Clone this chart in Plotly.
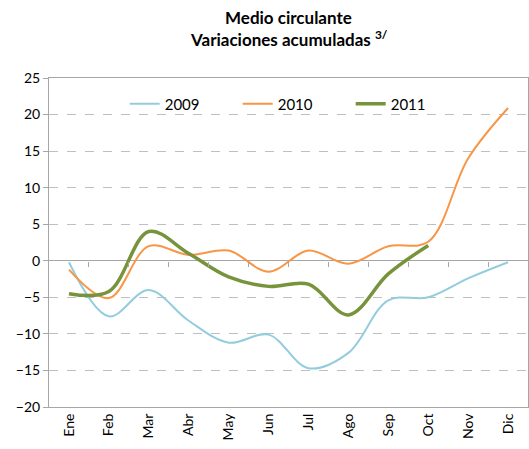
import plotly.graph_objects as go

months = ["Ene", "Feb", "Mar", "Abr", "May", "Jun", "Jul", "Ago", "Sep", "Oct", "Nov", "Dic"]
y2009 = [-0.2, -7.6, -4.0, -8.2, -11.2, -10.1, -14.7, -12.6, -5.4, -5.0, -2.4, -0.2]
y2010 = [-1.2, -5.1, 2.0, 0.8, 1.4, -1.5, 1.4, -0.4, 2.0, 2.6, 14.0, 20.9]
y2011 = [-4.5, -4.2, 4.0, 1.0, -2.2, -3.5, -3.2, -7.4, -1.8, 2.1]
title_lines = ["Medio circulante", "Variaciones acumuladas <sup>3/</sup>"]

FONT = "Lato"
fig = go.Figure()
fig.add_trace(go.Scatter(x=months, y=y2009, name="2009", mode="lines",
                         line=dict(color="#93CDDD", width=2, shape="spline", smoothing=1)))
fig.add_trace(go.Scatter(x=months, y=y2010, name="2010", mode="lines",
                         line=dict(color="#F79646", width=2, shape="spline", smoothing=1)))
fig.add_trace(go.Scatter(x=months[:len(y2011)], y=y2011, name="2011", mode="lines",
                         line=dict(color="#77933C", width=3.5, shape="spline", smoothing=1)))

# helper axis at zero with tick marks between categories
fig.add_trace(go.Scatter(x=months, y=[None]*12, xaxis="x2", showlegend=False, hoverinfo="skip"))

for txt, ypos in zip(title_lines, [1.185, 1.12]):
    fig.add_annotation(text="<b>" + txt + "</b>", xref="paper", yref="paper", x=0.5, y=ypos,
                       xanchor="center", yanchor="middle", showarrow=False,
                       font=dict(family=FONT, size=17, color="black"))

fig.update_layout(
    width=529, height=449,
    margin=dict(l=49, r=1, t=78, b=42),
    paper_bgcolor="white", plot_bgcolor="white",
    font=dict(family=FONT, size=14, color="black"),
    showlegend=True,
    legend=dict(orientation="h", x=0.158, xanchor="left", y=0.921, yanchor="middle",
                bgcolor="rgba(0,0,0,0)", font=dict(size=15),
                entrywidth=68, entrywidthmode="pixels", itemwidth=30),
    xaxis=dict(type="category", categoryorder="array", categoryarray=months,
               range=[-0.5, 11.5], tickangle=-90, showgrid=False,
               showline=True, linecolor="#A6A6A6", linewidth=1, mirror=True,
               ticks="", tickfont=dict(size=14), zeroline=False),
    xaxis2=dict(type="category", categoryorder="array", categoryarray=months,
                overlaying="x", anchor="free", position=20/45, side="bottom",
                range=[-0.5, 11.5], showticklabels=False, showgrid=False,
                showline=False, ticks="outside", ticklen=5, tickcolor="#A6A6A6",
                tickmode="array", tickvals=[i + 0.5 for i in range(11)], zeroline=False),
    yaxis=dict(range=[-20, 25], dtick=5, showgrid=True, gridcolor="#BFBFBF", griddash="dash",
               gridwidth=1, showline=True, linecolor="#A6A6A6", linewidth=1, mirror=True,
               ticks="outside", ticklen=5, tickcolor="#A6A6A6",
               zeroline=True, zerolinecolor="#A6A6A6", zerolinewidth=1,
               tickfont=dict(size=14)),
)
fig.write_html("out.html", config={"displayModeBar": False},
               post_script="document.body.style.margin='0';")
